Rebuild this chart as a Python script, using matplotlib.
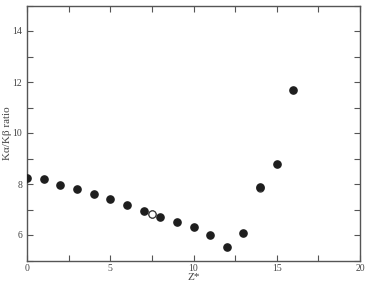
import matplotlib
matplotlib.use("Agg")
import matplotlib.pyplot as plt
from matplotlib.ticker import MultipleLocator

# data
z_filled = [0, 1, 2, 3, 4, 5, 6, 7, 8, 9, 10, 11, 12, 13, 14, 15, 16]
ratio_filled = [8.25, 8.18, 7.97, 7.79, 7.61, 7.40, 7.19, 6.94, 6.72, 6.51,
                6.30, 5.99, 5.54, 6.08, 7.90, 8.77, 11.69]
z_open = [7.5, 14]
ratio_open = [6.82, 7.86]

plt.rcParams['font.family'] = ['Liberation Serif', 'DejaVu Serif']

fig = plt.figure(figsize=(3.67, 2.82), dpi=100)
ax = fig.add_axes([27 / 367, 21.5 / 282, 333 / 367, 255 / 282])

ax.plot(z_open, ratio_open, 'o', ms=5.2, mfc='white', mec='#333333', mew=0.8, zorder=2)
ax.plot(z_filled, ratio_filled, 'o', ms=5.2, color='#1e1e1e', mec='#1e1e1e', zorder=3)
# open circle at 7.5 sits on top
ax.plot(z_open[:1], ratio_open[:1], 'o', ms=5.2, mfc='white', mec='#333333', mew=0.8, zorder=4)

ax.set_xlim(0, 20)
ax.set_ylim(5, 15)
ax.xaxis.set_major_locator(MultipleLocator(5))
ax.xaxis.set_minor_locator(MultipleLocator(2.5))
ax.yaxis.set_major_locator(MultipleLocator(2))
ax.yaxis.set_minor_locator(MultipleLocator(1))
ax.tick_params(which='both', direction='in', top=True, right=True,
               labelsize=7, colors='#555555', labelcolor='#444444', width=0.8)
ax.tick_params(which='major', length=4)
ax.tick_params(which='minor', length=4)
ax.tick_params(axis='x', pad=2.5)
for s in ax.spines.values():
    s.set_color('#555555')
    s.set_linewidth(1.0)

ax.set_xlabel('Z*', fontsize=8, color='#444444')
ax.set_ylabel('Kα/Kβ ratio', fontsize=8, color='#444444')
ax.xaxis.set_label_coords(0.5, -0.05)
ax.yaxis.set_label_coords(-0.046, 0.5)

fig.savefig('out.png', dpi=100)
